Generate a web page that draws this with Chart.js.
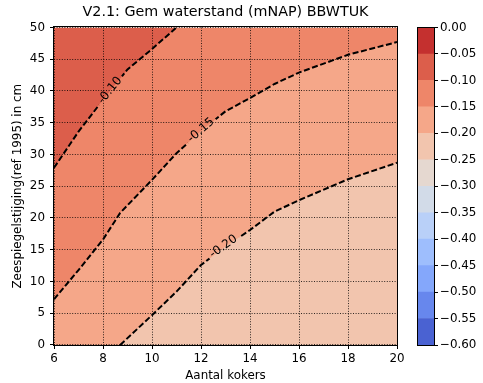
<!DOCTYPE html>
<html>
<head>
<meta charset="utf-8">
<script src="https://cdn.jsdelivr.net/npm/chart.js@4.4.0/dist/chart.umd.min.js"></script>
<style>
  html, body { margin: 0; padding: 0; background: #fff; }
  #wrap { position: relative; width: 483px; height: 383px; }
  #wrap canvas { position: absolute; left: 0; top: 0; }
</style>
</head>
<body>
<div id="wrap">
  <canvas id="plot" width="483" height="383"></canvas>
  <canvas id="cbar" width="483" height="383"></canvas>
</div>
<script>
// axes
const xTicks = [6, 8, 10, 12, 14, 16, 18, 20];
const yTicks = [0, 5, 10, 15, 20, 25, 30, 35, 40, 45, 50];

// colorbar levels (bottom to top) and band colours
const levels = [-0.60, -0.55, -0.50, -0.45, -0.40, -0.35, -0.30, -0.25, -0.20, -0.15, -0.10, -0.05, 0.00];
const bandColors = ['#4a62d2', '#6787ed', '#84a7fb', '#9ebefd', '#b9d0f8', '#d2dbe8',
                    '#e5d8d0', '#f2c5ae', '#f5a789', '#ee8669', '#dc5e4b', '#c4302f'];

// contour lines
const c10x = [6, 7, 8, 9, 10, 11];
const c10y = [27.9, 33.6, 38.6, 43.4, 46.6, 50];
const c15x = [6, 7, 8, 8.7, 10, 11, 12, 13, 14, 15, 16, 18, 20];
const c15y = [7.2, 11.8, 16.6, 20.8, 26, 30.2, 33.7, 36.8, 38.9, 41.1, 42.9, 45.7, 47.7];
const c20x = [8.7, 10, 11, 12, 13, 14, 15, 16, 18, 20];
const c20y = [0, 4.7, 8.4, 12.6, 15.5, 18.1, 21, 22.8, 26.1, 28.7];

// inline contour labels
const labelText = ['-0.10', '-0.15', '-0.20'];
const labelX = [8.29, 12.0, 12.92];
const labelY = [40.1, 33.8, 15.5];

const lineXs = [c10x, c15x, c20x];
const lineYs = [c10y, c15y, c20y];

const FONT = "'DejaVu Sans', sans-serif";
const tickFont = { family: FONT, size: 11.9 };

let pts = (xs, ys) => xs.map((x, i) => ({ x: x, y: ys[i] }));

let interp = (xs, ys, x) => {
    for (let i = 0; i < xs.length - 1; i++) {
        if (x >= xs[i] && x <= xs[i + 1]) {
            let t = (x - xs[i]) / (xs[i + 1] - xs[i]);
            return ys[i] + t * (ys[i + 1] - ys[i]);
        }
    }
    return x < xs[0] ? ys[0] : ys[ys.length - 1];
}

const xMin = xTicks[0], xMax = xTicks[xTicks.length - 1];
const yMin = yTicks[0], yMax = yTicks[yTicks.length - 1];

let fillSet = (data, color, order) => ({
    data: data, showLine: true, borderWidth: 0, borderColor: 'rgba(0,0,0,0)',
    backgroundColor: color, fill: 'end', order: order, pointRadius: 0
});

let lineSet = (xs, ys, idx) => ({
    data: pts(xs, ys), borderColor: '#000', borderWidth: 2, borderDash: [6, 2.6],
    fill: false, order: 0, pointRadius: 0, labelIdx: idx
});

const datasets = [
    fillSet([{ x: xMin, y: yMin }, { x: xMax, y: yMin }], bandColors[7], 4),
    fillSet([{ x: xMin, y: yMin }].concat(pts(c20x, c20y)), bandColors[8], 3),
    fillSet(pts(c15x, c15y), bandColors[9], 2),
    fillSet(pts(c10x, c10y), bandColors[10], 1),
    lineSet(c10x, c10y, 0),
    lineSet(c15x, c15y, 1),
    lineSet(c20x, c20y, 2)
];

const framePlugin = {
    id: 'frame',
    afterDraw(chart) {
        let a = chart.chartArea, ctx = chart.ctx;
        ctx.save();
        ctx.strokeStyle = '#000';
        ctx.lineWidth = 1;
        let l = Math.round(a.left) - 0.5, t = Math.round(a.top) - 0.5;
        let r = Math.round(a.right) + 0.5, b = Math.round(a.bottom) + 0.5;
        ctx.strokeRect(l, t, r - l, b - t);
        ctx.restore();
    }
};

let labelGeom = (chart, i) => {
    let sx = chart.scales.x, sy = chart.scales.y, ctx = chart.ctx;
    let x0 = labelX[i] - 0.4, x1 = labelX[i] + 0.4;
    let ax = sx.getPixelForValue(x0), ay = sy.getPixelForValue(interp(lineXs[i], lineYs[i], x0));
    let bx = sx.getPixelForValue(x1), by = sy.getPixelForValue(interp(lineXs[i], lineYs[i], x1));
    let angle = Math.atan2(by - ay, bx - ax);
    let cx = sx.getPixelForValue(labelX[i]), cy = sy.getPixelForValue(labelY[i]);
    ctx.save();
    ctx.font = '11.9px ' + FONT;
    let w = ctx.measureText(labelText[i]).width;
    ctx.restore();
    return { cx: cx, cy: cy, angle: angle, w: w };
}

const labelPlugin = {
    id: 'contourLabels',
    beforeDatasetDraw(chart, args) {
        let ds = chart.data.datasets[args.index];
        if (ds.labelIdx === undefined) return;
        let g = labelGeom(chart, ds.labelIdx);
        let hw = g.w / 2 + 3, hh = 6;
        let c = Math.cos(g.angle), s = Math.sin(g.angle);
        let corners = [[-hw, -hh], [hw, -hh], [hw, hh], [-hw, hh]].map(p =>
            [g.cx + p[0] * c - p[1] * s, g.cy + p[0] * s + p[1] * c]);
        let ctx = chart.ctx;
        ctx.save();
        ctx.beginPath();
        ctx.rect(0, 0, chart.width, chart.height);
        corners.forEach((p, k) => k ? ctx.lineTo(p[0], p[1]) : ctx.moveTo(p[0], p[1]));
        ctx.closePath();
        ctx.clip('evenodd');
    },
    afterDatasetDraw(chart, args) {
        let ds = chart.data.datasets[args.index];
        if (ds.labelIdx === undefined) return;
        chart.ctx.restore();
    },
    afterDraw(chart) {
        let ctx = chart.ctx;
        labelText.forEach((txt, i) => {
            let g = labelGeom(chart, i);
            ctx.save();
            ctx.translate(g.cx, g.cy);
            ctx.rotate(g.angle);
            ctx.font = '11.9px ' + FONT;
            ctx.fillStyle = '#000';
            ctx.textAlign = 'center';
            ctx.textBaseline = 'middle';
            ctx.fillText(txt, 0, 0);
            ctx.restore();
        });
    }
};

const gridOpts = { color: 'rgba(0,0,0,0.8)', lineWidth: 1, tickLength: 4, tickColor: '#000', tickWidth: 1, z: 1 };

new Chart(document.getElementById('plot'), {
    type: 'line',
    data: { datasets: datasets },
    options: {
        responsive: false,
        animation: false,
        layout: { padding: { left: 0, right: 86, top: 0, bottom: 0 } },
        plugins: {
            legend: { display: false },
            tooltip: { enabled: false },
            title: {
                display: true, fullSize: false,
                text: 'V2.1: Gem waterstand (mNAP) BBWTUK',
                color: '#000',
                font: { family: FONT, size: 14.3, weight: 'normal' },
                padding: { top: 4.2, bottom: 6.1 }
            }
        },
        scales: {
            x: {
                type: 'linear', min: xMin, max: xMax,
                afterBuildTicks: s => { s.ticks = xTicks.map(v => ({ value: v })); },
                afterFit: s => { s.height = 38; },
                ticks: { color: '#000', font: tickFont, padding: 3, maxRotation: 0, autoSkip: false },
                grid: gridOpts,
                border: { display: false, dash: [1, 1.6] },
                title: { display: true, text: 'Aantal kokers', color: '#000', font: tickFont, padding: { top: 0, bottom: 0 } }
            },
            y: {
                type: 'linear', min: yMin, max: yMax,
                afterBuildTicks: s => { s.ticks = yTicks.map(v => ({ value: v })); },
                afterFit: s => { s.width = 54; },
                ticks: { color: '#000', font: tickFont, padding: 5, autoSkip: false },
                grid: gridOpts,
                border: { display: false, dash: [1, 1.6] },
                title: { display: true, text: 'Zeespiegelstijging(ref 1995) in cm', color: '#000', font: tickFont, padding: { top: 10.8, bottom: 0 } }
            }
        }
    },
    plugins: [labelPlugin, framePlugin]
});

// colorbar
const cbTicks = levels.slice();

new Chart(document.getElementById('cbar'), {
    type: 'bar',
    data: {
        labels: [''],
        datasets: bandColors.map((c, i) => ({
            data: [[levels[i], levels[i + 1]]],
            backgroundColor: c, borderWidth: 0,
            barPercentage: 1, categoryPercentage: 1, grouped: false
        }))
    },
    options: {
        responsive: false,
        animation: false,
        layout: { padding: { left: 418, right: 0, top: 27.5, bottom: 38 } },
        plugins: { legend: { display: false }, tooltip: { enabled: false } },
        scales: {
            x: { display: false },
            y: {
                position: 'right', min: levels[0], max: levels[levels.length - 1],
                afterBuildTicks: s => { s.ticks = cbTicks.map(v => ({ value: v })); },
                afterFit: s => { s.width = 49; },
                ticks: {
                    color: '#000', font: tickFont, padding: 2, autoSkip: false,
                    callback: v => (Math.abs(v) < 1e-9 ? '0.00' : '\u2212' + Math.abs(v).toFixed(2))
                },
                grid: { drawOnChartArea: false, tickLength: 4, tickColor: '#000', tickWidth: 1 },
                border: { display: false }
            }
        }
    },
    plugins: [framePlugin]
});
</script>
</body>
</html>
